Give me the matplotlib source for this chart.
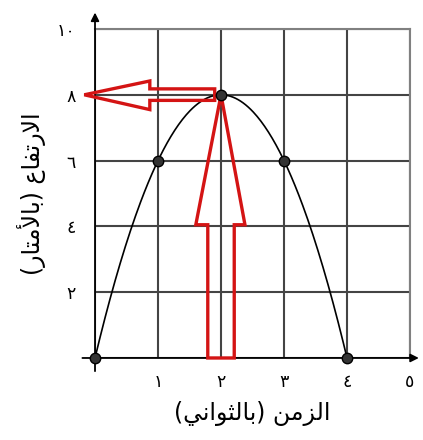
import numpy as np
import matplotlib.pyplot as plt
from matplotlib.patches import Polygon

plt.rcParams['font.family'] = ['DejaVu Sans']

# measured points of the throw (time in s, height in m)
times = [0, 1, 2, 3, 4]
heights = [0, 6, 8, 6, 0]

# arabic-indic tick labels (0 left blank)
x_ticks = [0, 1, 2, 3, 4, 5]
x_tick_labels = ['', '\u0661', '\u0662', '\u0663', '\u0664', '\u0665']
y_ticks = [0, 2, 4, 6, 8, 10]
y_tick_labels = ['', '\u0662', '\u0664', '\u0666', '\u0668', '\u0661\u0660']

# axis titles, shaped by hand into presentation forms (visual order)
x_title = '(\uFEF2\uFEE7\uFE8D\uFEEE\uFE9C\uFEDF\uFE8E\uFE91) \uFEE6\uFEE3\uFEB0\uFEDF\uFE8D'
y_title = '(\uFEAD\uFE8E\uFE98\uFEE3\uFEF7\uFE8E\uFE91) \uFEC9\uFE8E\uFED4\uFE97\uFEAD\uFEFB\uFE8D'

fig = plt.figure(figsize=(4.23, 4.40), dpi=100)
ax = fig.add_axes([0.2246, 0.1864, 0.7447, 0.7477])
ax.set_xlim(0, 5)
ax.set_ylim(0, 10)

ax.set_xticks(x_ticks)
ax.set_xticklabels(x_tick_labels, fontsize=12.5)
ax.set_yticks(y_ticks)
ax.set_yticklabels(y_tick_labels, fontsize=12.5)
ax.tick_params(length=0)
ax.tick_params(axis='x', pad=11)
ax.tick_params(axis='y', pad=14)
ax.grid(True, color='#444444', lw=1.5)
for side in ['left', 'bottom']:
    ax.spines[side].set_visible(False)
for side in ['top', 'right']:
    ax.spines[side].set_color('#808080')
    ax.spines[side].set_linewidth(1.5)

# axes with arrow heads
arr = dict(arrowstyle='-|>', color='black', lw=1.3, mutation_scale=12,
           shrinkA=0, shrinkB=0)
ax.annotate('', xy=(0, 10.5), xytext=(0, -0.4), arrowprops=arr,
            annotation_clip=False)
ax.annotate('', xy=(5.14, 0), xytext=(-0.2, 0), arrowprops=arr,
            annotation_clip=False)

# parabola through the measured points
coef = np.polyfit(times, heights, 2)
tt = np.linspace(times[0], times[-1], 200)
ax.plot(tt, np.polyval(coef, tt), color='black', lw=1.2, zorder=3,
        clip_on=False)
ax.plot(times, heights, 'o', color='#333333', mec='black', ms=7.5,
        zorder=6, clip_on=False)

# red hollow arrows pointing at the peak
i_max = int(np.argmax(heights))
pk_t, pk_h = times[i_max], heights[i_max]
red = '#d41414'

up = [(pk_t - 0.21, 0), (pk_t + 0.21, 0), (pk_t + 0.21, pk_h / 2 + 0.05),
      (pk_t + 0.38, pk_h / 2 + 0.05), (pk_t, pk_h),
      (pk_t - 0.4, pk_h / 2 + 0.05), (pk_t - 0.21, pk_h / 2 + 0.05)]
ax.add_patch(Polygon(up, closed=True, fill=False, ec=red, lw=2.4,
                     joinstyle='miter', zorder=5, clip_on=False))

left = [(pk_t - 0.1, pk_h + 0.18), (pk_t - 1.13, pk_h + 0.18),
        (pk_t - 1.13, pk_h + 0.42), (-0.17, pk_h),
        (pk_t - 1.13, pk_h - 0.45), (pk_t - 1.13, pk_h - 0.17),
        (pk_t - 0.1, pk_h - 0.17)]
ax.add_patch(Polygon(left, closed=True, fill=False, ec=red, lw=2.4,
                     joinstyle='miter', zorder=5, clip_on=False))

ax.set_xlabel(x_title, fontsize=17, labelpad=7)
ax.set_ylabel(y_title, fontsize=17, labelpad=8)

fig.savefig('out.png', dpi=100)
